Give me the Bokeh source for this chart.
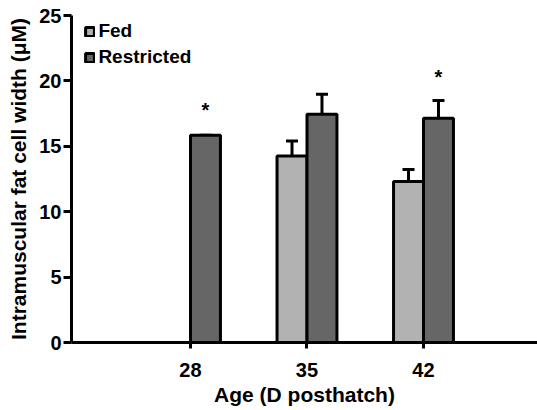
from bokeh.plotting import figure
from bokeh.models import Range1d, Whisker, TeeHead, ColumnDataSource, Legend, LegendItem, FixedTicker
from bokeh.core.properties import value
from bokeh.embed import file_html
from bokeh.resources import INLINE

# ---- data ----
ages = [28, 35, 42]
fed_ages = [35, 42]
fed_mean = [14.25, 12.3]
fed_sem = [1.15, 0.92]
res_ages = [28, 35, 42]
res_mean = [15.85, 17.45, 17.15]
res_sem = [0.0, 1.52, 1.35]
star_ages = [28, 42]
star_y = [17.8, 20.3]
y_ticks = [0, 5, 10, 15, 20, 25]

FED_C = "#b2b2b2"
RES_C = "#666666"
FONT = "Liberation Sans"
BAR_W = 1.8
OFF = 0.9

p = figure(width=537, height=410, output_backend="svg", toolbar_location=None,
           x_range=Range1d(20.85, 48.85), y_range=Range1d(0, 25),
           min_border_left=71, min_border_right=0, min_border_top=15, min_border_bottom=68)
p.outline_line_color = None
p.xgrid.visible = False
p.ygrid.visible = False
p.background_fill_color = "white"

fed_src = ColumnDataSource(dict(x=[a - OFF for a in fed_ages], top=fed_mean,
                                lower=fed_mean, upper=[m + s for m, s in zip(fed_mean, fed_sem)]))
res_src = ColumnDataSource(dict(x=[a + OFF for a in res_ages], top=res_mean,
                                lower=res_mean, upper=[m + s for m, s in zip(res_mean, res_sem)]))

for src in (fed_src, res_src):
    w = Whisker(base="x", lower="lower", upper="upper", source=src, dimension="height",
                line_color="black", line_width=3,
                upper_head=TeeHead(size=12, line_width=3, line_color="black"), lower_head=None)
    p.add_layout(w)

rf = p.vbar(x="x", top="top", width=BAR_W, bottom=0, source=fed_src, fill_color=FED_C,
            line_color="black", line_width=3)
rr = p.vbar(x="x", top="top", width=BAR_W, bottom=0, source=res_src, fill_color=RES_C,
            line_color="black", line_width=3)

p.text(x=[a + OFF for a in star_ages], y=star_y, text=["*"] * len(star_ages),
       text_font=value(FONT), text_font_size="20px", text_font_style="bold",
       text_align="center", text_baseline="middle", text_color="black")

legend = Legend(items=[LegendItem(label="Fed", renderers=[rf]),
                       LegendItem(label="Restricted", renderers=[rr])],
                location=(13.4, 274), padding=0, margin=0, spacing=4,
                glyph_width=11, glyph_height=11, label_standoff=3, label_height=20,
                label_text_font=FONT, label_text_font_size="19px", label_text_font_style="bold",
                label_text_color="black",
                background_fill_alpha=0, border_line_color=None)
p.add_layout(legend)

for ax in (p.xaxis, p.yaxis):
    ax.axis_line_width = 3
    ax.axis_line_color = "black"
    ax.major_tick_line_width = 3
    ax.major_tick_line_color = "black"
    ax.major_tick_in = 0
    ax.minor_tick_line_color = None
    ax.major_label_text_font = FONT
    ax.major_label_text_font_size = "20px"
    ax.major_label_text_font_style = "bold"
    ax.major_label_text_color = "black"
    ax.axis_label_text_font = FONT
    ax.axis_label_text_font_size = "21px"
    ax.axis_label_text_font_style = "bold"
    ax.axis_label_text_color = "black"

p.xaxis.ticker = FixedTicker(ticks=ages)
p.xaxis.major_tick_out = 6
p.xaxis.major_label_standoff = 14
p.xaxis.axis_label = "Age (D posthatch)"
p.xaxis.axis_label_standoff = 3

p.yaxis.ticker = FixedTicker(ticks=y_ticks)
p.yaxis.major_tick_out = 8
p.yaxis.major_label_standoff = 2
p.yaxis.axis_label = "Intramuscular fat cell width (μM)"
p.yaxis.axis_label_standoff = 6

open("out.html", "w").write(file_html(p, INLINE))
